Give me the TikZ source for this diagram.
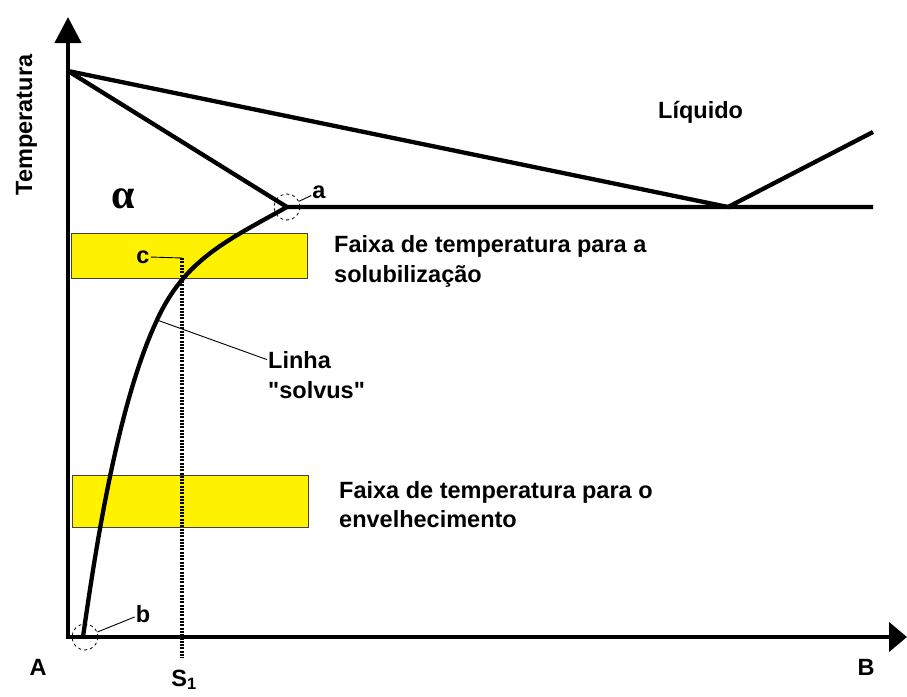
\documentclass[tikz,border=0pt]{standalone}
\usepackage{fontspec}
\setmainfont{Liberation Sans}
\newfontfamily\greekfont{Liberation Serif}
\usetikzlibrary{arrows.meta,positioning}

\begin{document}
\begin{tikzpicture}[x=1pt,y=-1pt,
  fase/.style={line width=4.3pt},
  faixa/.style={draw=black!75,line width=1pt,fill=yellow},
  guia/.style={line width=0.9pt},
  marca/.style={circle,draw,dashed,line width=0.8pt,minimum size=26pt,inner sep=0pt},
  rotulo/.style={font={\fontsize{23.5}{30}\selectfont\bfseries},inner sep=1pt}]
\useasboundingbox (0,0) rectangle (907,696);
% faixas de temperatura
\draw[faixa] (71,233) rectangle (307,278);
\draw[faixa] (72,475) rectangle (308,527);
% eixos
\draw[fase,line join=miter,{Triangle[length=26pt,width=26pt]}-{Triangle[length=18pt,width=29pt]}]
  (68,17)--(68,637)--(907,637);
% linhas do diagrama
\coordinate (topo) at (68,71);
\coordinate (pa) at (287,207);
\coordinate (pb) at (83,637);
\coordinate (eut) at (728,207);
\coordinate (liqfim) at (873,132);
\coordinate (eutfim) at (873,207);
\coordinate (ps) at (157,320);
\draw[fase] (topo)--(eut)--(liqfim);
\draw[fase] (topo)--(pa)--(eutfim);
% linha solvus
\draw[fase] (pa) .. controls (228,240) and (185,259) .. (ps)
  .. controls (119,401) and (97,538) .. (pb);
% pontos a, b, c
\node[marca] (ca) at (pa) {};
\node[marca] (cb) at (85,637) {};
\node[rotulo,anchor=base] (la) at (319,198) {a};
\node[rotulo,anchor=base] (lb) at (143,622) {b};
\node[rotulo,anchor=base] (lc) at (143,263) {c};
\draw[guia] (ca)--(la);
\draw[guia] (cb)--(lb);
\coordinate (cs) at (182,258);
\coordinate (s1t) at (182,658);
\draw[guia] (lc)--(cs);
\draw[line width=3.3pt,dash pattern=on 2pt off 1.3pt] (cs)--(s1t);
% textos
\node[rotulo,anchor=base] (s1) at (184,686) {S\textsubscript{1}};
\node[rotulo,anchor=base] (eixoA) at (38,675) {A};
\node[rotulo,anchor=base] (eixoB) at (866,675) {B};
\node[rotulo,rotate=90,anchor=base] (temp) at (32,125) {Temperatura};
\node[anchor=base,inner sep=0pt,font={\greekfont\fontsize{42}{42}\selectfont\bfseries}] (alfa) at (123,208) {α};
\node[rotulo,anchor=base west] (liq) at (657,118) {Líquido};
\node[rotulo,anchor=base west] (sol1) at (333,252) {Faixa de temperatura para a};
\node[rotulo,anchor=base west] (sol2) at (333,282) {solubilização};
\node[rotulo,anchor=base west] (env1) at (338,498) {Faixa de temperatura para o};
\node[rotulo,anchor=base west] (env2) at (338,527) {envelhecimento};
\node[rotulo,anchor=base west] (linha) at (267,368) {Linha};
\node[rotulo,anchor=base west] (solvus) at (267,398) {\textquotedbl solvus\textquotedbl};
\draw[guia] (ps)--(linha.west);
\end{tikzpicture}
\end{document}
